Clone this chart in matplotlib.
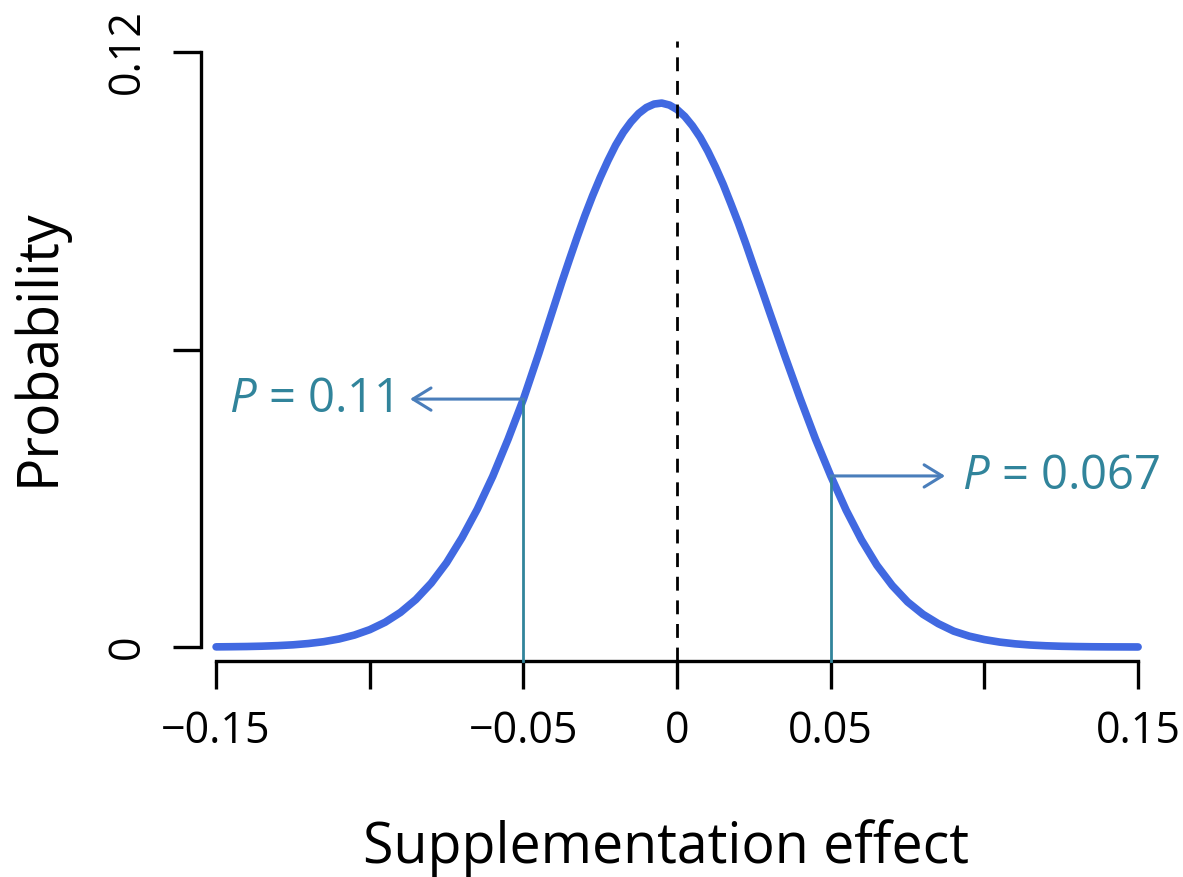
import matplotlib
matplotlib.use("Agg")
import matplotlib.pyplot as plt

# curve (denser near the peak)
effect = [-0.150, -0.145, -0.140, -0.135, -0.130, -0.125, -0.120, -0.115, -0.110, -0.105,
          -0.100, -0.095, -0.090, -0.085, -0.080, -0.075, -0.070, -0.065, -0.060, -0.055,
          -0.050, -0.045, -0.0425, -0.040, -0.0375, -0.035, -0.0325, -0.030, -0.0275,
          -0.025, -0.0225, -0.020, -0.0175, -0.015, -0.0125, -0.010, -0.0075, -0.005,
          -0.0025, 0.000, 0.0025, 0.005, 0.0075, 0.010, 0.0125, 0.015, 0.0175, 0.020,
          0.0225, 0.025, 0.0275, 0.030, 0.035, 0.040, 0.045,
          0.050, 0.055, 0.060, 0.065, 0.070, 0.075, 0.080, 0.085, 0.090, 0.095,
          0.100, 0.105, 0.110, 0.115, 0.120, 0.125, 0.130, 0.135, 0.140, 0.145, 0.150]
prob = [0.00003, 0.00006, 0.0001, 0.00017, 0.00028, 0.00044, 0.0007, 0.00107, 0.00162, 0.00241,
        0.0035, 0.00499, 0.00698, 0.00958, 0.01289, 0.01701, 0.02204, 0.02780, 0.03440, 0.04190,
        0.0500, 0.0592, 0.0640, 0.0688, 0.0736, 0.0782, 0.0827, 0.0870, 0.0910,
        0.0947, 0.0981, 0.1012, 0.1038, 0.1059, 0.1076, 0.1088, 0.1095, 0.1097,
        0.1093, 0.1084, 0.1070, 0.1051, 0.1028, 0.1000, 0.0968, 0.0933, 0.0894, 0.0854,
        0.0811, 0.0766, 0.0722, 0.0677, 0.0588, 0.0502, 0.0420,
        0.0345, 0.0276, 0.0216, 0.0165, 0.0124, 0.0091, 0.0066, 0.0047, 0.0032, 0.0022,
        0.0015, 0.00099, 0.00064, 0.0004, 0.00025, 0.00015, 0.00009, 0.00005, 0.00003, 0.00002, 0.00001]

x_ticks = [-0.15, -0.10, -0.05, 0, 0.05, 0.10, 0.15]
x_labels = ["\u22120.15", "", "\u22120.05", "0", "0.05", "", "0.15"]
y_ticks = [0, 0.06, 0.12]
y_labels = ["0", "", "0.12"]
cutoffs = [-0.05, 0.05]
p_labels = ["$P$ = 0.11", "$P$ = 0.067"]

plt.rcParams["font.family"] = ["Open Sans", "DejaVu Sans"]
plt.rcParams["mathtext.fontset"] = "custom"
plt.rcParams["mathtext.rm"] = "Open Sans"
plt.rcParams["mathtext.it"] = "Open Sans:italic"

fig = plt.figure(figsize=(11.83, 8.77), dpi=100)
ax = fig.add_axes([0.170, 0.2463, 0.8064, 0.7081])

teal = "#31849B"
arrow_col = "#4A7EBB"

ax.plot(effect, prob, color="#4169E1", lw=5.5, solid_capstyle="round",
        solid_joinstyle="round", zorder=2)

ylo = -0.00282
for c in cutoffs:
    h = prob[effect.index(c)]
    ax.plot([c, c], [ylo, h], color=teal, lw=2, zorder=3, clip_on=False)

ax.plot([0, 0], [ylo, 0.1222], color="black", lw=2, ls=(0, (5, 3.5)), zorder=4, clip_on=False)

# arrows and P values
h_left = prob[effect.index(cutoffs[0])]
h_right = prob[effect.index(cutoffs[1])]
ap = dict(arrowstyle="->,head_length=0.65,head_width=0.4", color=arrow_col, lw=2.2,
          shrinkA=0, shrinkB=0, mutation_scale=20)
ax.annotate("", xy=(-0.0869, h_left), xytext=(cutoffs[0], h_left), arrowprops=ap)
ax.annotate("", xy=(0.0872, h_right), xytext=(cutoffs[1], h_right), arrowprops=ap)
ax.text(-0.0925, h_left, p_labels[0], color=teal, fontsize=34, ha="right", va="center")
ax.text(0.0927, h_right, p_labels[1], color=teal, fontsize=34, ha="left", va="center")

ax.set_xlim(-0.15488, 0.15553)
ax.set_ylim(ylo, 0.12242)

for s in ["top", "right"]:
    ax.spines[s].set_visible(False)
ax.spines["left"].set_bounds(0, 0.12)
ax.spines["bottom"].set_bounds(-0.15, 0.15)
ax.spines["left"].set_linewidth(2.4)
ax.spines["bottom"].set_linewidth(2.4)

ax.set_xticks(x_ticks)
ax.set_xticklabels(x_labels)
ax.set_yticks(y_ticks)
ax.set_yticklabels(y_labels, rotation=90, va="center")
ax.tick_params(axis="both", length=20, width=2.4, labelsize=31)
ax.tick_params(axis="x", pad=15)
ax.tick_params(axis="y", pad=17)

ax.set_xlabel("Supplementation effect", fontsize=40)
ax.xaxis.set_label_coords(0.487, -0.255)
ax.set_ylabel("Probability", fontsize=40)
ax.yaxis.set_label_coords(-0.14, 0.506)

fig.savefig("out.png", dpi=100)
